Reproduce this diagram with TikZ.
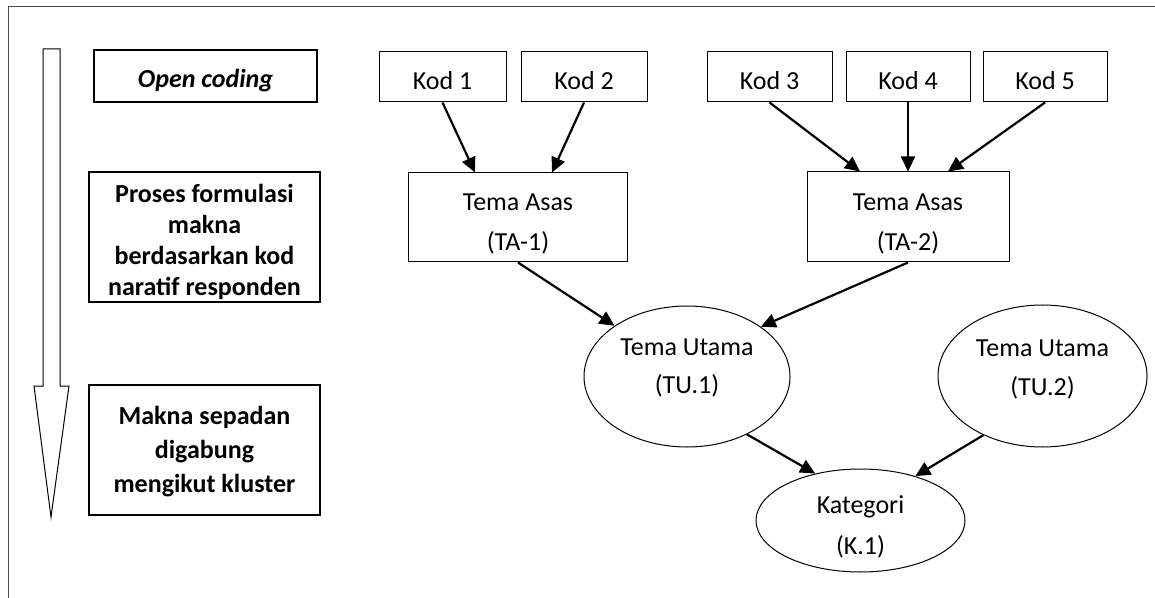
\documentclass[tikz,border=0pt]{standalone}
\usepackage{fontspec}
\setmainfont{Carlito}
\usetikzlibrary{arrows.meta,shapes.geometric,calc}
\begin{document}
\begin{tikzpicture}[x=0.5pt,y=-0.5pt,
  kodbox/.style={draw,line width=0.5pt,inner sep=0pt,minimum height=25pt},
  tabox/.style={draw,line width=0.5pt,inner sep=0pt},
  tuell/.style={draw,ellipse,line width=0.5pt,inner sep=0pt},
  stagebox/.style={draw,line width=1pt,inner sep=0pt},
  plaintext/.style={inner sep=0pt,align=center,font={\fontsize{13}{16}\selectfont}},
  twoline/.style={inner sep=0pt,align=center,font={\fontsize{13}{#1}\selectfont}},
  stagetext/.style={inner sep=0pt,align=center,font={\fontsize{13}{#1}\selectfont\bfseries}},
  conn/.style={line width=1.1pt,-{Triangle[length=7.5pt,width=7pt]}}]
\useasboundingbox (0,0) rectangle (1155,598);
% outer frame (left and top edges)
\draw[black!70,line width=0.5pt] (8,598) -- (8,7) -- (1155,7);
% hollow down arrow
\draw[line width=0.5pt] (43,49) -- (60,49) -- (60,386) -- (69,386) -- (51,517) -- (34,386) -- (43,386) -- cycle;
% stage boxes
\node[stagebox,minimum width=111.5pt,minimum height=26pt] (oc) at (205.5,76) {};
\node[stagetext=16] (oct) at (205.5,81) {\itshape Open coding};
\node[stagebox,minimum width=115.5pt,minimum height=65pt] (pf) at (204.5,237) {};
\node[stagetext=15.5] (pft) at (204.5,242) {Proses formulasi\\makna\\berdasarkan kod\\naratif responden};
\node[stagebox,minimum width=115.5pt,minimum height=65pt] (mk) at (204.5,450) {};
\node[stagetext=17] (mkt) at (204.5,452) {Makna sepadan\\digabung\\mengikut kluster};
% codes
\node[kodbox,minimum width=63.5pt] (k1) at (442.5,77) {};
\node[plaintext] (k1t) at (442.5,81) {Kod 1};
\node[kodbox,minimum width=63pt] (k2) at (584,77) {};
\node[plaintext] (k2t) at (584,81) {Kod 2};
\node[kodbox,minimum width=62.5pt] (k3) at (769.5,77) {};
\node[plaintext] (k3t) at (769.5,81) {Kod 3};
\node[kodbox,minimum width=62pt] (k4) at (908,77) {};
\node[plaintext] (k4t) at (908,81) {Kod 4};
\node[kodbox,minimum width=62pt] (k5) at (1045,77) {};
\node[plaintext] (k5t) at (1045,81) {Kod 5};
% basic themes
\node[tabox,minimum width=109.5pt,minimum height=44.5pt] (ta1) at (518,217.5) {};
\node[twoline=20] (ta1t) at (518,224) {Tema Asas\\(TA-1)};
\node[tabox,minimum width=101pt,minimum height=45pt] (ta2) at (908,217) {};
\node[twoline=20] (ta2t) at (908,224) {Tema Asas\\(TA-2)};
% main themes
\node[tuell,minimum width=103pt,minimum height=70.5pt] (tu1) at (687,376.5) {};
\node[twoline=19] (tu1t) at (687,368) {Tema Utama\\(TU.1)};
\node[tuell,minimum width=104.5pt,minimum height=71pt] (tu2) at (1042.5,376) {};
\node[twoline=19.5] (tu2t) at (1042.5,369) {Tema Utama\\(TU.2)};
% category
\node[tuell,minimum width=104.5pt,minimum height=51.5pt] (kat) at (860.5,520.5) {};
\node[twoline=20.5] (katt) at (860.5,527) {Kategori\\(K.1)};
% connectors
\draw[conn] (k1.south) -- ($(ta1.north)+(-43,0)$);
\draw[conn] (k2.south) -- ($(ta1.north)+(34,0)$);
\draw[conn] (k3.south) -- ($(ta2.north)+(-48,0)$);
\draw[conn] (k4.south) -- (ta2.north);
\draw[conn] (k5.south) -- ($(ta2.north)+(40,0)$);
\draw[conn] (ta1.south) -- (tu1.145);
\draw[conn] (ta2.south) -- (tu1.34);
\draw[conn] (tu1.316) -- (kat.134);
\draw[conn] (tu2.225) -- (kat.39);
\end{tikzpicture}
\end{document}
